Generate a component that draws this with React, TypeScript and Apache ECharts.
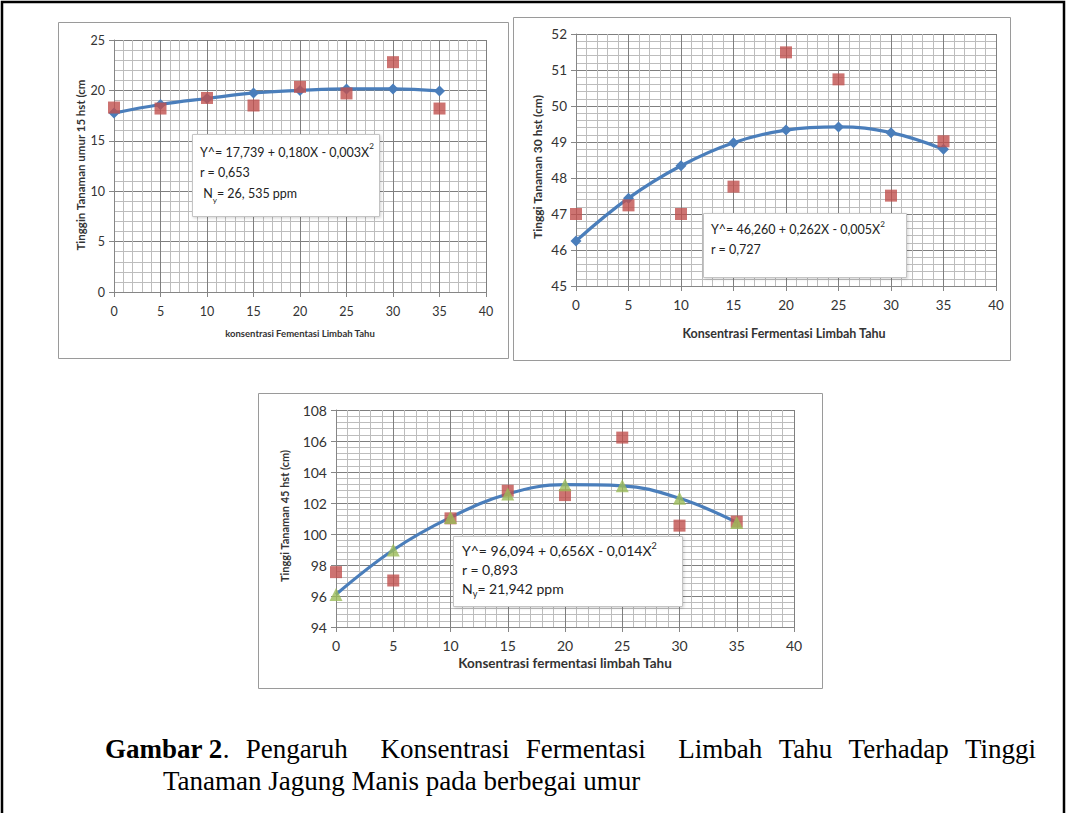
import React, { useEffect, useRef } from "react";
import * as echarts from "echarts";

// ---- data ----
const xValues = [0, 5, 10, 15, 20, 25, 30, 35];

// Chart A: plant height 15 days after planting
const fit15 = [17.75, 18.6, 19.2, 19.75, 20.0, 20.15, 20.15, 19.95];
const obs15 = [18.3, 18.2, 19.25, 18.5, 20.35, 19.7, 22.8, 18.2];

// Chart B: plant height 30 days after planting
const fit30 = [46.25, 47.44, 48.34, 48.98, 49.33, 49.42, 49.26, 48.8];
const obs30 = [47.0, 47.24, 47.0, 47.76, 51.49, 50.74, 47.51, 49.02];

// Chart C: plant height 45 days after planting
const fit45 = [96.1, 98.97, 101.07, 102.58, 103.18, 103.11, 102.3, 100.75];
const obs45 = [97.54, 97.0, 101.01, 102.79, 102.51, 106.22, 100.54, 100.8];

const yTitleA = "Tinggin Tanaman umur 15 hst (cm";
const yTitleB = "Tinggi Tanaman 30 hst (cm)";
const yTitleC = "Tinggi Tanaman 45 hst (cm)";
const xTitleA = "konsentrasi Fementasi Limbah Tahu";
const xTitleB = "Konsentrasi Fermentasi Limbah Tahu";
const xTitleC = "Konsentrasi fermentasi limbah Tahu";

const eqA = ["Y^= 17,739 + 0,180X - 0,003X{sup|2}", "r = 0,653", " N{sub|y}= 26, 535 ppm"];
const eqB = ["Y^= 46,260 + 0,262X - 0,005X{sup|2}", "r = 0,727"];
const eqC = ["Y^= 96,094 + 0,656X - 0,014X{sup|2}", "r = 0,893", "N{sub|y}= 21,942 ppm"];

const captionLead = "Gambar 2";
const captionWords1 = ["Pengaruh", "Konsentrasi", "Fermentasi", "Limbah", "Tahu", "Terhadap", "Tinggi"];
const captionGapWeights = [1, 2, 1, 2, 1, 1, 1];
const captionLine2 = "Tanaman Jagung Manis pada berbegai umur";

// ---- styling ----
const SANS = 'Lato, "Open Sans", "Noto Sans", sans-serif';
const SERIF = '"Liberation Serif", "Times New Roman", serif';
const AXIS = "#868686";
const MAJOR = "#7f7f7f";
const MINOR = "#bdbdbd";
const BLUE = "#4a7ebb";
const RED = "#c0504d";
const GREEN = "#9bbb59";
const LABEL = "#333333";
const CAP = 27;

const pairs = (ys: number[]) => xValues.map((x, i) => [x, ys[i]]);

function xAxis(gridIndex: number, fontSize: number, margin: number) {
  return {
    gridIndex,
    type: "value",
    min: 0,
    max: 40,
    interval: 5,
    axisLine: { show: true, onZero: false, lineStyle: { color: AXIS, width: 1 } },
    axisTick: { show: true, length: 5, lineStyle: { color: AXIS } },
    axisLabel: { fontSize, color: LABEL, fontFamily: SANS, margin },
    splitLine: { show: true, lineStyle: { color: MAJOR, width: 1 } },
    minorTick: { show: false, splitNumber: 5 },
    minorSplitLine: { show: true, lineStyle: { color: MINOR, width: 1 } },
  };
}

function yAxis(gridIndex: number, min: number, max: number, interval: number, fontSize: number) {
  return {
    gridIndex,
    type: "value",
    min,
    max,
    interval,
    axisLine: { show: true, onZero: false, lineStyle: { color: AXIS, width: 1 } },
    axisTick: { show: true, length: 5, lineStyle: { color: AXIS } },
    axisLabel: { fontSize, color: LABEL, fontFamily: SANS, margin: 9 },
    splitLine: { show: true, lineStyle: { color: MAJOR, width: 1 } },
    minorTick: { show: false, splitNumber: 5 },
    minorSplitLine: { show: true, lineStyle: { color: MINOR, width: 1 } },
  };
}

function fitLine(idx: number, ys: number[], withDiamonds: boolean) {
  return {
    type: "line",
    xAxisIndex: idx,
    yAxisIndex: idx,
    data: pairs(ys),
    smooth: 0.4,
    symbol: withDiamonds ? "diamond" : "none",
    symbolSize: 11,
    showSymbol: withDiamonds,
    lineStyle: { color: BLUE, width: 3.2 },
    itemStyle: { color: BLUE },
    z: 3,
  };
}

function obsScatter(idx: number, ys: number[]) {
  return {
    type: "scatter",
    xAxisIndex: idx,
    yAxisIndex: idx,
    data: pairs(ys),
    symbol: "rect",
    symbolSize: 12,
    itemStyle: { color: RED },
    z: 4,
  };
}

function eqBox(x: number, y: number, w: number, h: number, lines: string[], tx: number, ty: number, fontSize: number, lh: number) {
  return [
    {
      type: "rect",
      z: 50,
      shape: { x, y, width: w, height: h },
      style: { fill: "#ffffff", stroke: "#c4c4c4", lineWidth: 1, shadowBlur: 3, shadowColor: "rgba(0,0,0,0.18)", shadowOffsetX: 1, shadowOffsetY: 1 },
    },
    {
      type: "text",
      z: 51,
      x: tx,
      y: ty,
      style: {
        text: lines.join("\n"),
        fontSize,
        fontFamily: SANS,
        fill: "#222",
        lineHeight: lh,
        align: "left",
        verticalAlign: "top",
        rich: {
          sup: { fontSize: fontSize * 0.65, fontFamily: SANS, fill: "#222", lineHeight: lh * 0.6, verticalAlign: "top" },
          sub: { fontSize: fontSize * 0.65, fontFamily: SANS, fill: "#222", lineHeight: lh * 0.5, verticalAlign: "bottom" },
        },
      },
    },
  ];
}

function frame(x: number, y: number, w: number, h: number) {
  return {
    type: "rect",
    z: -10,
    shape: { x, y, width: w, height: h },
    style: { fill: "#ffffff", stroke: "#9a9a9a", lineWidth: 1 },
  };
}

function title(text: string, x: number, y: number, fontSize: number, rotated: boolean) {
  return {
    type: "text",
    z: 5,
    x,
    y,
    rotation: rotated ? Math.PI / 2 : 0,
    style: { text, fontSize, fontWeight: "bold", fontFamily: SANS, fill: "#333", align: "center", verticalAlign: "middle" },
  };
}

function measure(text: string, font: string): number {
  const c = document.createElement("canvas").getContext("2d");
  if (!c) return text.length * 10;
  c.font = font;
  return c.measureText(text).width;
}

export default function App() {
  const ref = useRef<HTMLDivElement>(null);

  useEffect(() => {
    if (!ref.current) return;
    const chart = echarts.init(ref.current, undefined, { renderer: "svg" });

    // justified first caption line: lead at 105, last word ends at 1036
    const boldFont = `bold ${CAP}px "Liberation Serif"`;
    const normFont = `${CAP}px "Liberation Serif"`;
    const leadW = measure(captionLead, boldFont);
    const dotW = measure(".", normFont);
    const wordW = captionWords1.map((w) => measure(w, normFont));
    const startX = 105 + leadW + dotW;
    const endX = 1036;
    const totalWords = wordW.reduce((a, b) => a + b, 0);
    const totalWeight = captionGapWeights.reduce((a, b) => a + b, 0);
    const unit = (endX - startX - totalWords) / totalWeight;
    const capX: number[] = [];
    let cx = startX;
    captionWords1.forEach((_, i) => {
      cx += unit * captionGapWeights[i];
      capX.push(cx);
      cx += wordW[i];
    });

    const graphic: any[] = [
      {
        type: "rect",
        z: -20,
        shape: { x: 2, y: 2, width: 1062, height: 900 },
        style: { fill: "#ffffff", stroke: "#000000", lineWidth: 2.5 },
      },
      frame(58.5, 22.5, 450, 336),
      frame(513.5, 17.5, 497, 343),
      frame(258.5, 393.5, 564, 295),
      title(yTitleA, 80, 165, 11.5, true),
      title(xTitleA, 300, 333, 9.5, false),
      title(yTitleB, 537, 167, 12, true),
      title(xTitleB, 784, 333, 12.5, false),
      title(yTitleC, 284, 516, 11, true),
      title(xTitleC, 565, 663, 13.5, false),
      ...eqBox(192.5, 134.5, 187, 82, eqA, 200, 142, 12.5, 20.5),
      ...eqBox(703.5, 213.5, 203, 64, eqB, 711, 220, 12.5, 19.5),
      ...eqBox(453.5, 536.5, 229, 70, eqC, 462, 541, 14, 19),
      {
        type: "text",
        z: 5,
        x: 105,
        y: 749,
        style: { text: captionLead, fontSize: CAP, fontWeight: "bold", fontFamily: SERIF, fill: "#000", align: "left", verticalAlign: "middle" },
      },
      {
        type: "text",
        z: 5,
        x: 105 + leadW,
        y: 749,
        style: { text: ".", fontSize: CAP, fontFamily: SERIF, fill: "#000", align: "left", verticalAlign: "middle" },
      },
      ...captionWords1.map((w, i) => ({
        type: "text",
        z: 5,
        x: capX[i],
        y: 749,
        style: { text: w, fontSize: CAP, fontFamily: SERIF, fill: "#000", align: "left", verticalAlign: "middle" },
      })),
      {
        type: "text",
        z: 5,
        x: 163,
        y: 781,
        style: { text: captionLine2, fontSize: CAP, fontFamily: SERIF, fill: "#000", align: "left", verticalAlign: "middle" },
      },
    ];

    chart.setOption({
      animation: false,
      backgroundColor: "#ffffff",
      grid: [
        { left: 114, top: 40, width: 372, height: 252, containLabel: false },
        { left: 576, top: 34, width: 420, height: 252, containLabel: false },
        { left: 336, top: 410, width: 458, height: 217, containLabel: false },
      ],
      xAxis: [xAxis(0, 12.5, 13), xAxis(1, 13.5, 12), xAxis(2, 14, 11)],
      yAxis: [yAxis(0, 0, 25, 5, 12.5), yAxis(1, 45, 52, 1, 13.5), yAxis(2, 94, 108, 2, 14)],
      series: [
        fitLine(0, fit15, true),
        obsScatter(0, obs15),
        fitLine(1, fit30, true),
        obsScatter(1, obs30),
        fitLine(2, fit45, false),
        obsScatter(2, obs45),
        {
          type: "scatter",
          xAxisIndex: 2,
          yAxisIndex: 2,
          data: pairs(fit45),
          symbol: "triangle",
          symbolSize: 13,
          itemStyle: { color: GREEN },
          z: 5,
        },
      ],
      graphic,
    });

    return () => chart.dispose();
  }, []);

  return <div ref={ref} style={{ position: "absolute", left: 0, top: 0, width: 1067, height: 813 }} />;
}
